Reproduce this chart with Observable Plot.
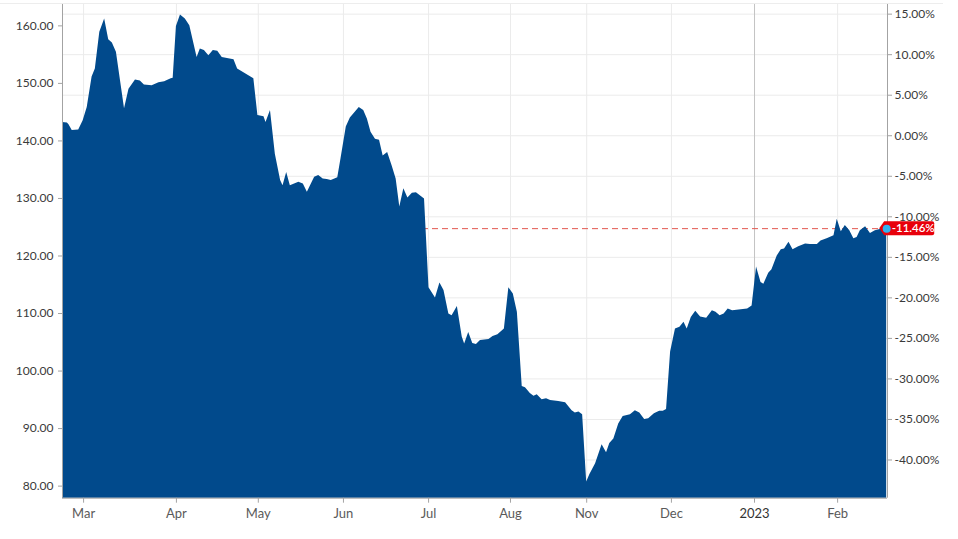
<!DOCTYPE html>
<html>
<head>
<meta charset="utf-8">
<script src="https://cdn.jsdelivr.net/npm/d3@7"></script>
<script src="https://cdn.jsdelivr.net/npm/@observablehq/plot@0.6"></script>
<style>
  html, body { margin: 0; padding: 0; background: #fff; }
  #chart { position: relative; width: 958px; height: 539px; font-family: Lato, "Open Sans", sans-serif; }
  #topline { position: absolute; left: 0; top: 3px; width: 943px; height: 1px; background: #ededed; }
</style>
</head>
<body>
<div id="chart"><div id="topline"></div></div>
<script>
// trading-day index (0 = first session shown) and closing price
const dayIndex = [
  0,1.2,1.6,2.4,4.0,5.1,6.1,7.3,8.1,9.2,
  10.4,11.4,12.3,13.3,14.3,15.3,16.4,18.0,19.2,20.2,
  22.1,23.8,25.2,26.8,27.3,28.1,29.1,30.3,31.4,33.2,
  34.0,35.0,36.1,37.2,38.3,39.4,42.3,43.2,47.2,48.2,
  49.7,50.2,51.3,52.5,53.8,54.4,55.3,56.2,58.3,59.4,
  60.4,62.2,63.2,64.3,65.3,66.3,67.9,68.7,70.0,71.0,
  72.0,73.2,74.3,75.2,76.1,77.2,78.2,79.1,80.2,81.3,
  82.3,83.2,84.2,85.2,86.3,87.3,89.3,90.4,92.0,93.1,
  94.1,95.3,96.1,97.4,98.6,99.2,100.2,101.2,102.1,103.1,
  105.2,106.2,107.4,109.0,110.1,111.2,112.2,113.4,114.2,115.4,
  116.3,117.1,118.3,119.4,120.4,122.4,124.1,125.7,126.5,127.4,
  128.3,129.3,130.1,131.5,133.1,134.2,135.0,136.0,137.2,138.3,
  140.1,141.3,142.4,143.6,144.6,146.0,147.3,148.2,149.0,150.0,
  151.2,152.3,153.3,154.1,155.1,156.2,157.4,158.9,160.3,161.2,
  162.2,163.2,164.2,165.3,169.0,170.1,171.2,172.3,173.0,174.2,
  175.0,176.3,177.3,178.1,179.2,180.2,181.6,183.3,184.5,186.2,
  187.1,188.6,190.3,191.1,192.1,193.1,194.2,195.2,196.0,196.8,
  198.1,199.3,200.5,202.2,203.3
];
const price = [
  143.2,143.1,142.8,141.8,141.9,143.5,145.8,151.1,152.5,158.9,
  161.2,157.6,157.0,155.4,150.5,145.6,149.0,150.6,150.4,149.7,
  149.6,150.1,150.3,150.8,150.9,159.9,161.9,161.2,160.0,154.5,
  156.0,155.7,154.8,155.7,155.6,154.5,154.1,152.5,150.8,144.4,
  144.2,143.2,145.3,137.7,133.1,132.2,134.5,132.2,132.8,132.5,
  131.1,133.7,134.0,133.4,133.3,133.1,133.6,136.9,142.4,144.0,
  144.8,145.8,145.3,143.8,141.5,140.3,140.1,137.4,138.0,135.7,
  133.4,128.5,131.7,130.1,130.9,131.0,129.9,114.5,112.7,115.3,
  114.0,109.9,109.6,111.2,105.9,104.7,106.7,104.8,104.6,105.3,
  105.5,106.0,106.3,107.3,114.5,113.4,110.2,97.3,97.1,96.1,
  95.6,95.9,95.0,95.2,94.9,94.7,94.5,93.1,92.7,92.9,
  92.4,80.7,82.0,83.9,87.2,85.8,87.4,88.2,90.8,92.1,
  92.4,93.1,92.7,91.6,91.7,92.6,93.0,93.0,93.3,103.3,
  107.3,107.6,108.5,107.3,109.3,110.4,109.4,109.2,110.5,110.2,
  109.6,109.9,110.8,110.5,110.8,111.3,118.1,115.4,115.1,117.0,
  117.6,120.0,121.1,121.2,122.4,121.1,121.6,122.1,122.0,122.0,
  122.6,123.0,123.5,126.4,124.2,125.3,124.4,123.0,123.2,124.4,
  125.1,123.9,124.4,124.7,124.75
];

const monthLabels = ["Mar","Apr","May","Jun","Jul","Aug","Nov","Dec","2023","Feb"];
const monthTickIndex = [5.2,28.1,48.3,69.3,90.3,110.5,129.3,150.2,170.7,191.2];
const yearLabel = "2023";

const priceTicks = [80,90,100,110,120,130,140,150,160];
const pctTicks = [15,10,5,0,-5,-10,-15,-20,-25,-30,-35,-40];
const basePrice = 140.9;
const lastPctLabel = "-11.46%";
const lastPct = -11.46;

const xDomain = [0, 203.5];
const yDomain = [77.9, 163.8];

const rows = dayIndex.map((d, i) => ({i: d, v: price[i]}));
const last = rows[rows.length - 1];
const lastPrice = basePrice * (1 + lastPct / 100);
const pctValues = pctTicks.map(p => basePrice * (1 + p / 100));
const labelOf = new Map(monthTickIndex.map((t, k) => [t, monthLabels[k]]));
const yearTick = monthTickIndex.filter(t => labelOf.get(t) === yearLabel);
const monthTicks = monthTickIndex.filter(t => labelOf.get(t) !== yearLabel);

const AXIS = "#a3a3a3";
const GRID = "#ebebeb";

const tag = (index, scales) => {
  const px = scales.x(last.i), py = scales.y(lastPrice);
  const g = d3.create("svg:g");
  g.append("path")
    .attr("d", `M${px - 7},${py} L${px - 2},${py - 7} H${px + 46} q2,0 2,2 V${py + 5} q0,2 -2,2 H${px - 2} Z`)
    .attr("fill", "#e8000b");
  g.append("text")
    .attr("x", px + 5.5).attr("y", py)
    .attr("dy", "0.35em")
    .attr("text-anchor", "start")
    .attr("fill", "#fff")
    .attr("font-size", 11.5)
    .attr("font-weight", 600)
    .attr("font-family", "Lato, sans-serif")
    .text(lastPctLabel);
  return g.node();
};

const plot = Plot.plot({
  width: 958,
  height: 539,
  marginLeft: 62,
  marginRight: 71,
  marginTop: 3.5,
  marginBottom: 41.3,
  style: {fontFamily: "Lato, 'Open Sans', sans-serif", fontSize: "12px", background: "transparent", overflow: "visible"},
  x: {domain: xDomain},
  y: {domain: yDomain},
  marks: [
    Plot.gridY(pctValues, {stroke: GRID, strokeOpacity: 1}),
    Plot.gridX(monthTicks, {stroke: GRID, strokeOpacity: 1}),
    Plot.gridX(yearTick, {stroke: "#c4c4c4", strokeOpacity: 1}),
    Plot.ruleY([lastPrice], {stroke: "#e2574f", strokeDasharray: "6,4", strokeWidth: 1}),
    Plot.areaY(rows, {x: "i", y1: yDomain[0], y2: "v", fill: "#014a8c"}),
    Plot.ruleX([xDomain[0], xDomain[1]], {stroke: AXIS}),
    Plot.ruleY([yDomain[0]], {stroke: AXIS}),
    Plot.axisY(priceTicks, {anchor: "left", label: null, tickSize: 4, tickPadding: 5,
      stroke: AXIS, fill: "#3a3a3a", fontSize: 12, tickFormat: d => d.toFixed(2)}),
    Plot.axisY(pctValues, {anchor: "right", label: null, tickSize: 4, tickPadding: 3,
      stroke: AXIS, fill: "#3a3a3a", fontSize: 12,
      tickFormat: d => ((d / basePrice - 1) * 100).toFixed(2) + "%"}),
    Plot.axisX(monthTicks, {anchor: "bottom", label: null, tickSize: 5, tickPadding: 6,
      stroke: AXIS, fill: "#5a5a5a", fontSize: 13, tickFormat: d => labelOf.get(d)}),
    Plot.axisX(yearTick, {anchor: "bottom", label: null, tickSize: 5, tickPadding: 6,
      stroke: AXIS, fill: "#333", fontSize: 13, tickFormat: d => labelOf.get(d)}),
    tag,
    Plot.dot([last], {x: "i", y: () => lastPrice, r: 4, fill: "#33b2ef", stroke: "none"})
  ]
});

document.getElementById("chart").appendChild(plot);
</script>
</body>
</html>
